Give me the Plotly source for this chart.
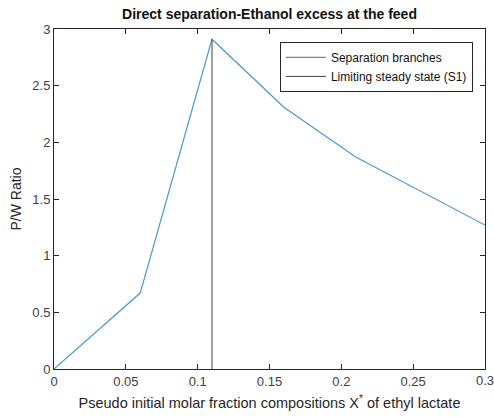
import plotly.graph_objects as go

# Pseudo initial molar fraction of ethyl lactate and the P/W ratio along the branch
x_comp = [0.0, 0.06, 0.11, 0.16, 0.21, 0.30]
pw_ratio = [0.0, 0.67, 2.91, 2.31, 1.87, 1.27]

# Limiting steady state S1
s1_x = [0.11, 0.11]
s1_y = [0.0, 2.91]

x_ticks = [0, 0.05, 0.1, 0.15, 0.2, 0.25, 0.3]
x_tick_text = ["0", "0.05", "0.1", "0.15", "0.2", "0.25", "0.3"]
y_ticks = [0, 0.5, 1, 1.5, 2, 2.5, 3]
y_tick_text = ["0", "0.5", "1", "1.5", "2", "2.5", "3"]

axis_col = "#262626"
tick_col = "#404040"
font_family = "Liberation Sans, Arial, sans-serif"
tick_font = dict(family=font_family, size=13, color=tick_col)

fig = go.Figure()
fig.add_trace(go.Scatter(
    x=x_comp, y=pw_ratio, mode="lines", name="Separation branches",
    line=dict(color="#4a98c9", width=1.2),
))
fig.add_trace(go.Scatter(
    x=s1_x, y=s1_y, mode="lines", name="Limiting steady state (S1)",
    line=dict(color="#444444", width=1),
))

axis_common = dict(
    showgrid=False, zeroline=False, showline=True, linecolor=axis_col, linewidth=1,
    mirror="ticks", ticks="inside", ticklen=5, tickcolor=axis_col, tickwidth=1,
    tickfont=tick_font, automargin=False,
)

# The last x tick label runs past the right edge of the page, where Plotly would
# drop it; draw it as an annotation so it is clipped by the page instead.
fig.add_annotation(
    x=x_ticks[-1], xref="x", y=0, yref="paper", yanchor="top", yshift=-2,
    text=x_tick_text[-1], showarrow=False, font=tick_font,
)

fig.update_layout(
    width=494, height=417,
    margin=dict(l=54, r=9, t=29, b=48),
    paper_bgcolor="white", plot_bgcolor="white",
    font=dict(family=font_family, color=axis_col),
    title=dict(
        text="<b>Direct separation-Ethanol excess at the feed</b>",
        x=0.5 + (54 - 9) / 2 / 494, xanchor="center", y=1 - 14 / 417, yanchor="middle",
        font=dict(family=font_family, size=14, color="#111111"),
    ),
    xaxis=dict(
        range=[0, 0.3], tickvals=x_ticks[:-1], ticktext=x_tick_text[:-1],
        title=dict(text="Pseudo initial molar fraction compositions X<sup>*</sup> of ethyl lactate",
                   font=dict(family=font_family, size=14.5, color=axis_col), standoff=10),
        **axis_common,
    ),
    yaxis=dict(
        range=[0, 3], tickvals=y_ticks, ticktext=y_tick_text,
        title=dict(text="P/W Ratio", font=dict(family=font_family, size=14, color=axis_col),
                   standoff=7),
        **axis_common,
    ),
    legend=dict(
        x=0.972, y=0.962, xanchor="right", yanchor="top",
        bgcolor="white", bordercolor=axis_col, borderwidth=1,
        font=dict(family=font_family, size=12, color="#111111"),
        tracegroupgap=0, itemwidth=40,
    ),
    showlegend=True,
)

fig.write_html("out.html")
